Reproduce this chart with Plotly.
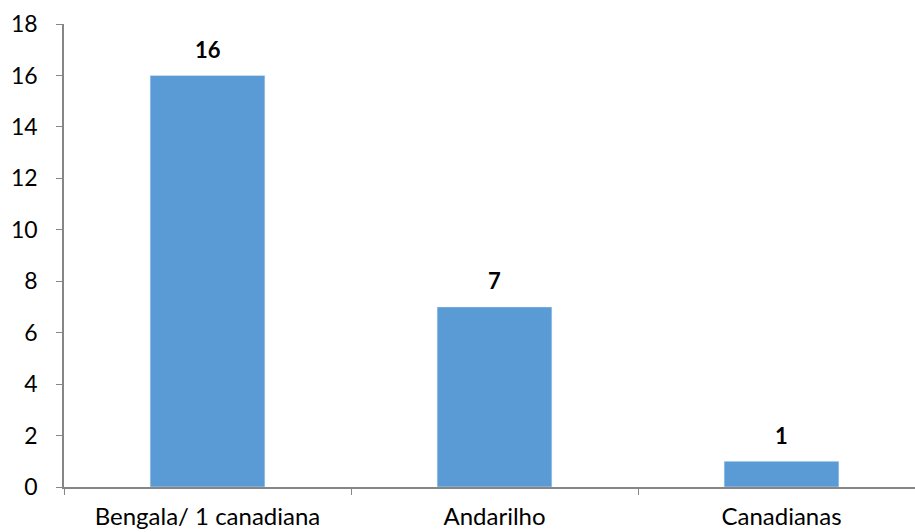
import plotly.graph_objects as go

categories = ["Bengala/ 1 canadiana", "Andarilho", "Canadianas"]
values = [16, 7, 1]
y_ticks = [0, 2, 4, 6, 8, 10, 12, 14, 16, 18]

FONT = "Lato"
fig = go.Figure(go.Bar(x=categories, y=values, marker_color="#5B9BD5", width=0.4,
                       hoverinfo="skip"))

for c, v in zip(categories, values):
    fig.add_annotation(x=c, y=v, text=f"<b>{v}</b>", showarrow=False, yshift=26,
                       font=dict(family=FONT, size=22, color="#000000"))

fig.update_layout(
    width=915, height=532,
    margin=dict(l=64, r=0, t=24, b=45),
    plot_bgcolor="white", paper_bgcolor="white",
    showlegend=False,
    font=dict(family=FONT, size=24, color="#000000"),
)
fig.update_xaxes(
    type="category", range=[-0.5, -0.5 + 851 / 287],
    showline=True, linecolor="#868686", linewidth=1.5,
    ticks="outside", tickson="boundaries", ticklen=6, tickcolor="#868686",
    showgrid=False, tickfont=dict(family=FONT, size=24), ticklabelstandoff=7,
)
fig.update_yaxes(
    range=[0, 18], tickvals=y_ticks,
    showline=True, linecolor="#868686", linewidth=1.5,
    ticks="outside", ticklen=6, tickcolor="#868686",
    showgrid=False, zeroline=False, ticklabelstandoff=14,
    tickfont=dict(family=FONT, size=23),
)

fig.write_html("out.html")
